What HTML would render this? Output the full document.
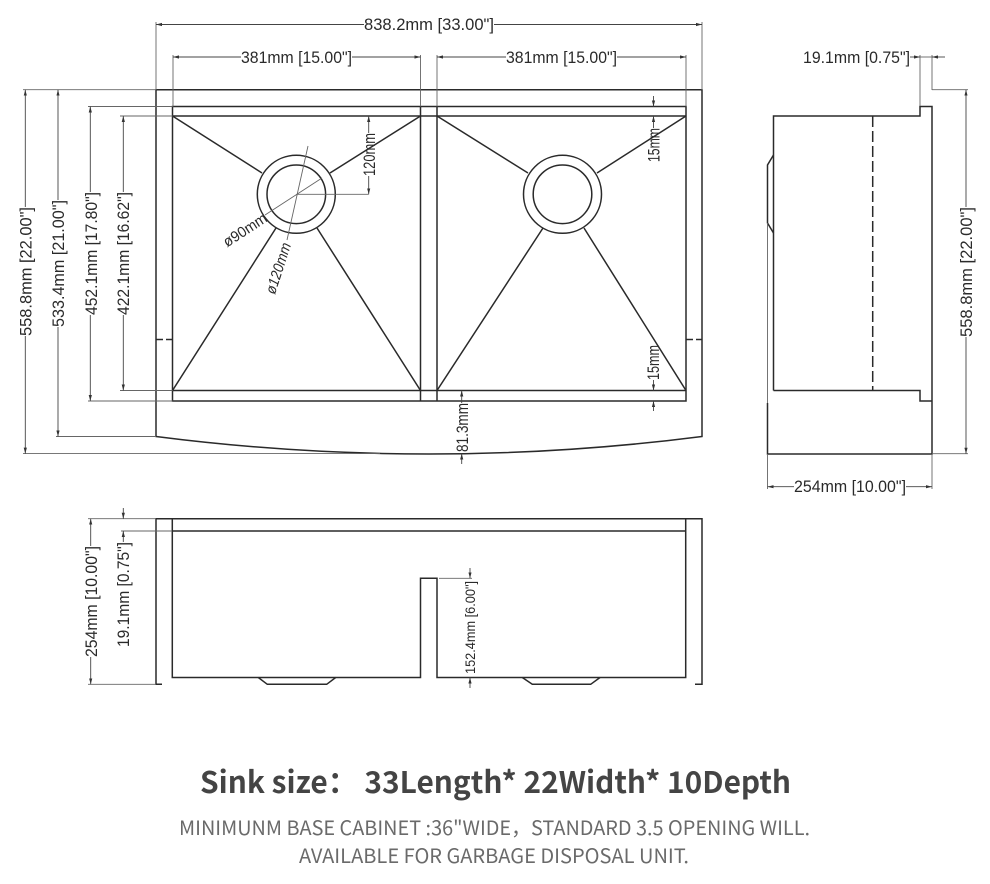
<!DOCTYPE html>
<html><head><meta charset="utf-8"><style>
html,body{margin:0;padding:0;background:#fff;width:990px;height:884px;overflow:hidden}
svg{display:block}
.k{fill:none;stroke:#2a2a2a;stroke-width:1.5}
.t{fill:none;stroke:#666;stroke-width:.9}
.s{fill:none;stroke:#444;stroke-width:.9;marker-start:url(#m)}
.l{font:16.5px "Liberation Sans",sans-serif;fill:#2a2a2a}
.h{font:bold 30px "Noto Sans CJK SC","Liberation Sans",sans-serif;fill:#444}
.n{font:20px "Noto Sans CJK SC","Liberation Sans",sans-serif;fill:#6a6a6a}
</style></head><body>
<svg width="990" height="884" viewBox="0 0 990 884" xmlns="http://www.w3.org/2000/svg">
<defs><marker id="m" markerUnits="userSpaceOnUse" markerWidth="8" markerHeight="6" refX="6" refY="3" orient="auto-start-reverse"><path d="M6 3L0 1.4V4.6Z" fill="#333"/></marker></defs>

<!-- top view -->
<path class="k" d="M156 436.5V89.7H702V436.5Q429 471.5 156 436.5Z"/>
<path class="k" d="M172.5 106.5H686V401H172.5ZM172.5 116H686M172.5 390.5H686M420.5 106.5V401M437 106.5V401"/>
<circle class="k" cx="296.3" cy="194.3" r="39"/><circle class="k" cx="296.3" cy="194.3" r="29.3"/>
<circle class="k" cx="562.5" cy="194.3" r="39"/><circle class="k" cx="562.5" cy="194.3" r="29.3"/>
<path class="k" d="M172.5 116L262 173M420.5 116L330 173M172.5 390.5L276 228M420.5 390.5L317 228M437 116L528 173M686 116L597 173M437 390.5L543 228M686 390.5L584 228"/>
<path class="k" d="M156 339.5H163M166 339.5H172.5M686 339.5H693M696 339.5H702"/>

<!-- extension lines top view -->
<path class="t" d="M156 22V90M173 55V106.5M420.5 55V106.5M437 55V106.5M686 55V106.5M702 22V90"/>
<path class="t" d="M23 89.7H156M88 106.5H172.5M120 116H172.5M120 390.5H172.5M88 401H172.5M56 436.5H156M23 453.6H380"/>

<!-- horizontal dims -->
<path class="s" d="M156 24.5H364"/><path class="s" d="M702 24.5H494"/>
<path class="s" d="M173 57H241"/><path class="s" d="M420.5 57H352"/>
<path class="s" d="M437 57H506"/><path class="s" d="M686 57H617"/>
<text class="l" x="364" y="30" textLength="130" lengthAdjust="spacingAndGlyphs">838.2mm [33.00"]</text>
<text class="l" x="241" y="63" textLength="111" lengthAdjust="spacingAndGlyphs">381mm [15.00"]</text>
<text class="l" x="506" y="63" textLength="111" lengthAdjust="spacingAndGlyphs">381mm [15.00"]</text>

<!-- vertical dims left -->
<path class="s" d="M25.3 89.7V207"/><path class="s" d="M25.3 453.6V336"/>
<path class="s" d="M58 89.7V200"/><path class="s" d="M58 436.5V327"/>
<path class="s" d="M90.3 106.5V192"/><path class="s" d="M90.3 401V315"/>
<path class="s" d="M123.3 116V192"/><path class="s" d="M123.3 390.5V315"/>
<text class="l" transform="translate(31.5 336) rotate(-90)" textLength="129" lengthAdjust="spacingAndGlyphs">558.8mm [22.00"]</text>
<text class="l" transform="translate(64 327) rotate(-90)" textLength="127" lengthAdjust="spacingAndGlyphs">533.4mm [21.00"]</text>
<text class="l" transform="translate(97 315) rotate(-90)" textLength="123" lengthAdjust="spacingAndGlyphs">452.1mm [17.80"]</text>
<text class="l" transform="translate(129 315) rotate(-90)" textLength="123" lengthAdjust="spacingAndGlyphs">422.1mm [16.62"]</text>

<!-- inner dims -->
<path class="s" d="M368.7 116V133"/><path class="s" d="M368.7 194.3V176"/><path class="t" d="M296.3 194.3H368.7"/>
<text class="l" transform="translate(375 176) rotate(-90)" textLength="43" lengthAdjust="spacingAndGlyphs">120mm</text>
<path class="s" d="M653.5 106.5V96"/><path class="s" d="M653.5 116V128"/>
<text class="l" transform="translate(659.5 162) rotate(-90)" textLength="34" lengthAdjust="spacingAndGlyphs">15mm</text>
<path class="s" d="M653.5 390.5V380"/><path class="s" d="M653.5 401V411"/>
<text class="l" transform="translate(659 380) rotate(-90)" textLength="35" lengthAdjust="spacingAndGlyphs">15mm</text>
<path class="s" d="M461.7 390.5V403"/><path class="s" d="M461.7 453.6V464"/>
<text class="l" transform="translate(468 452) rotate(-90)" textLength="49" lengthAdjust="spacingAndGlyphs">81.3mm</text>
<path class="t" d="M322 178L265 215M308 146L287 240"/>
<text class="l" style="font-size:15px" text-anchor="middle" transform="translate(245 230) rotate(-33) translate(0 5)" textLength="49" lengthAdjust="spacingAndGlyphs">ø90mm</text>
<text class="l" style="font-size:15px;font-style:italic" text-anchor="middle" transform="translate(278.3 268.3) rotate(-72) translate(0 5)" textLength="53" lengthAdjust="spacingAndGlyphs">ø120mm</text>

<!-- side view -->
<path class="k" d="M773.5 390.5V116H920V106.5H932V454H767.5V403M773.5 390.5H920V401H932"/>
<path class="k" stroke-dasharray="11 4" d="M872.7 116V390.5"/>
<path class="k" d="M773.5 155L767.5 165V223L773.5 233"/>
<path class="t" d="M767.5 223V403M767.5 454V489M932 454V489M920 55V106M932 55V90M932 89.7H968M932 453.7H968"/>
<path class="s" d="M966 89.7V207"/><path class="s" d="M966 453.7V337"/>
<text class="l" transform="translate(972 337) rotate(-90)" textLength="130" lengthAdjust="spacingAndGlyphs">558.8mm [22.00"]</text>
<path class="s" d="M767.5 486.7H794"/><path class="s" d="M932 486.7H906"/>
<text class="l" x="794" y="492" textLength="112" lengthAdjust="spacingAndGlyphs">254mm [10.00"]</text>
<path class="s" d="M920 57H910"/><path class="s" d="M932 57H945"/><path class="t" d="M920 57H932"/>
<text class="l" x="803" y="63" textLength="107" lengthAdjust="spacingAndGlyphs">19.1mm [0.75"]</text>

<!-- front view -->
<path class="k" d="M162 684.3H156V518.7H702V684.3H695"/>
<path class="k" d="M172.3 518.7V677.5H420.5V578.3H437V677.5H685.7V518.7M172.3 531H685.7"/>
<path class="k" d="M258.3 677.5L267.3 684.3H326.7L335.7 677.5M522.3 677.5L532.3 684.3H590.7L600 677.5"/>
<path class="t" d="M88 518.7H156M88 684.3H156M121 531H172M439 578.3H472"/>
<path class="s" d="M90.7 518.7V546"/><path class="s" d="M90.7 684.3V657"/>
<text class="l" transform="translate(97 657) rotate(-90)" textLength="111" lengthAdjust="spacingAndGlyphs">254mm [10.00"]</text>
<path class="s" d="M123.3 518.7V508"/><path class="s" d="M123.3 531V542"/>
<text class="l" transform="translate(129 647) rotate(-90)" textLength="105" lengthAdjust="spacingAndGlyphs">19.1mm [0.75"]</text>
<path class="s" d="M470 578.3V568"/><path class="s" d="M470 677.5V688"/>
<text class="l" style="font-size:14px" transform="translate(475 674) rotate(-90)" textLength="93" lengthAdjust="spacingAndGlyphs">152.4mm [6.00"]</text>

<!-- captions -->
<text class="h" x="200" y="793" textLength="591" lengthAdjust="spacingAndGlyphs">Sink size： 33Length* 22Width* 10Depth</text>
<text class="n" x="179" y="835" textLength="631" lengthAdjust="spacingAndGlyphs">MINIMUNM BASE CABINET :36"WIDE，STANDARD 3.5 OPENING WILL.</text>
<text class="n" x="299" y="863" textLength="390" lengthAdjust="spacingAndGlyphs">AVAILABLE FOR GARBAGE DISPOSAL UNIT.</text>
</svg>
</body></html>
